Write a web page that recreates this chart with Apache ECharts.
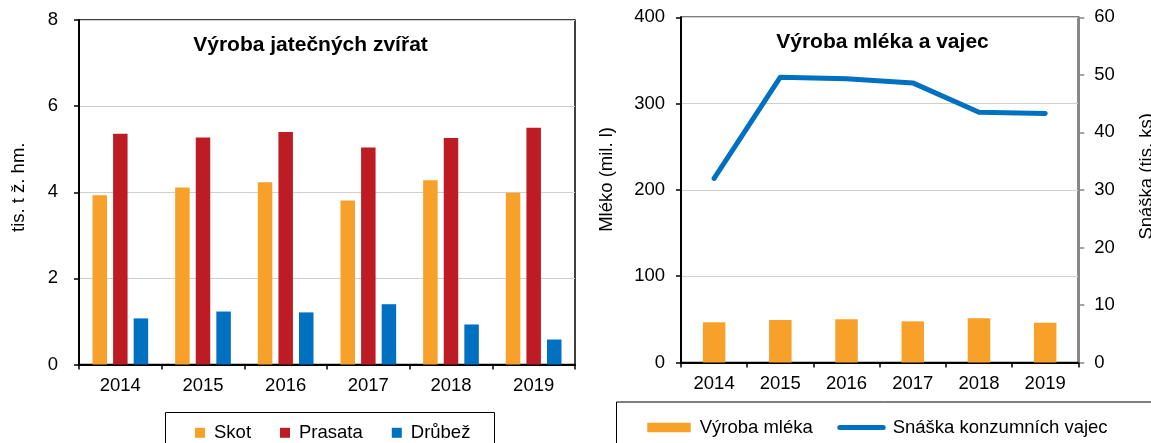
<!DOCTYPE html>
<html>
<head>
<meta charset="utf-8">
<script src="https://cdn.jsdelivr.net/npm/echarts@6/dist/echarts.min.js"></script>
<style>
html,body{margin:0;padding:0;background:#fff;}
#c{width:1151px;height:443px;}
</style>
</head>
<body>
<div id="c"></div>
<script>
const years = ['2014','2015','2016','2017','2018','2019'];
const skot = [3.93, 4.11, 4.23, 3.81, 4.28, 3.99];
const prasata = [5.36, 5.27, 5.40, 5.04, 5.26, 5.50];
const drubez = [1.07, 1.23, 1.21, 1.40, 0.93, 0.58];
const mleko = [46.6, 49.2, 50.0, 47.7, 51.2, 46.1];
const snaska = [32.0, 49.6, 49.3, 48.6, 43.5, 43.3];

const FONT = "'Liberation Sans', Arial, sans-serif";
const FS = 18.5;
const ORANGE = '#F7A12A', RED = '#BE1C24', BLUE = '#0070C0';

const chart = echarts.init(document.getElementById('c'), null, {renderer:'canvas'});
const txt = {color:'#000', fontFamily:FONT, fontSize:FS};
const capsule = 'path://M2.5,0 L45.9,0 A2.5,2.5 0 0 1 45.9,5 L2.5,5 A2.5,2.5 0 0 1 2.5,0 Z';

chart.setOption({
  animation:false,
  textStyle:{fontFamily:FONT},
  title:[
    {text:'Výroba jatečných zvířat', left:310.5, top:35, textAlign:'center', padding:0,
     textStyle:{fontFamily:FONT, fontSize:21, fontWeight:'bold', color:'#000'}},
    {text:'Výroba mléka a vajec', left:882.5, top:31.5, textAlign:'center', padding:0,
     textStyle:{fontFamily:FONT, fontSize:21, fontWeight:'bold', color:'#000'}}
  ],
  legend:[
    {data:['Skot','Prasata','Drůbež'], left:195, top:423.3, padding:0, icon:'rect',
     itemWidth:10, itemHeight:10, itemGap:29,
     textStyle:Object.assign({padding:[0,0,0,4]}, txt)},
    {data:[{name:'Výroba mléka', icon:'rect'}], left:647.3, top:418, padding:0,
     itemWidth:43.4, itemHeight:9.3,
     textStyle:Object.assign({padding:[0,0,0,4]}, txt)},
    {data:[{name:'Snáška konzumních vajec', icon:capsule}], left:837.3, top:418, padding:0,
     itemWidth:48.4, itemHeight:9.3, symbolKeepAspect:true,
     textStyle:Object.assign({padding:[0,0,0,2]}, txt)}
  ],
  graphic:[
    {type:'rect', shape:{x:165.5, y:412.5, width:329, height:60}, style:{fill:'none', stroke:'#000', lineWidth:1}},
    {type:'rect', shape:{x:616.5, y:402, width:600, height:60}, style:{fill:'none', stroke:'#000', lineWidth:1}}
  ],
  grid:[
    {left:79, top:20, width:496, height:344.5, show:true, borderColor:'#000', borderWidth:1.5,
     backgroundColor:'transparent', containLabel:false, outerBoundsMode:'none'},
    {left:681, top:17.3, width:397.3, height:345.2, show:true, borderColor:'#000', borderWidth:1.5,
     backgroundColor:'transparent', containLabel:false, outerBoundsMode:'none'}
  ],
  xAxis:[
    {type:'category', gridIndex:0, data:years, boundaryGap:true,
     axisLine:{lineStyle:{color:'#000', width:2}},
     axisTick:{show:true, length:5, lineStyle:{color:'#000', width:1.5}},
     axisLabel:Object.assign({margin:12}, txt)},
    {type:'category', gridIndex:1, data:years, boundaryGap:true,
     axisLine:{lineStyle:{color:'#000', width:2}},
     axisTick:{show:true, length:5, lineStyle:{color:'#000', width:1.5}},
     axisLabel:Object.assign({margin:12}, txt)}
  ],
  yAxis:[
    {type:'value', gridIndex:0, min:0, max:8, interval:2,
     name:'tis. t ž. hm.', nameLocation:'middle', nameGap:51,
     nameTextStyle:Object.assign({padding:[0,0,0,10]}, txt),
     axisLine:{show:true, lineStyle:{color:'#000', width:2}},
     axisTick:{show:true, length:5, lineStyle:{color:'#000', width:1.5}},
     axisLabel:Object.assign({margin:21}, txt),
     splitLine:{lineStyle:{color:'#CFCFCF', width:1}}},
    {type:'value', gridIndex:1, min:0, max:400, interval:100,
     name:'Mléko (mil. l)', nameLocation:'middle', nameGap:65,
     nameTextStyle:Object.assign({padding:[0,0,0,21]}, txt),
     axisLine:{show:true, lineStyle:{color:'#000', width:2}},
     axisTick:{show:true, length:5, lineStyle:{color:'#000', width:1.5}},
     axisLabel:Object.assign({margin:16}, txt),
     splitLine:{lineStyle:{color:'#CFCFCF', width:1}}},
    {type:'value', gridIndex:1, position:'right', min:0, max:60, interval:10,
     name:'Snáška (tis. ks)', nameLocation:'middle', nameGap:59,
     nameTextStyle:Object.assign({padding:[0,0,0,27]}, txt),
     axisLine:{show:true, lineStyle:{color:'#868686', width:2}},
     axisTick:{show:true, length:6, lineStyle:{color:'#868686', width:1.5}},
     axisLabel:Object.assign({margin:16}, txt),
     splitLine:{show:false}}
  ],
  series:[
    {name:'Skot', type:'bar', xAxisIndex:0, yAxisIndex:0, data:skot, barWidth:14.5, barGap:'42%', itemStyle:{color:ORANGE}},
    {name:'Prasata', type:'bar', xAxisIndex:0, yAxisIndex:0, data:prasata, barWidth:14.5, barGap:'42%', itemStyle:{color:RED}},
    {name:'Drůbež', type:'bar', xAxisIndex:0, yAxisIndex:0, data:drubez, barWidth:14.5, barGap:'42%', itemStyle:{color:BLUE}},
    {name:'Výroba mléka', type:'bar', xAxisIndex:1, yAxisIndex:1, data:mleko, barWidth:22.5, itemStyle:{color:ORANGE}},
    {name:'Snáška konzumních vajec', type:'line', xAxisIndex:1, yAxisIndex:2, data:snaska,
     symbol:'none', showSymbol:false, z:5,
     lineStyle:{color:BLUE, width:5, cap:'round', join:'round'}, itemStyle:{color:BLUE}}
  ]
});
</script>
</body>
</html>
